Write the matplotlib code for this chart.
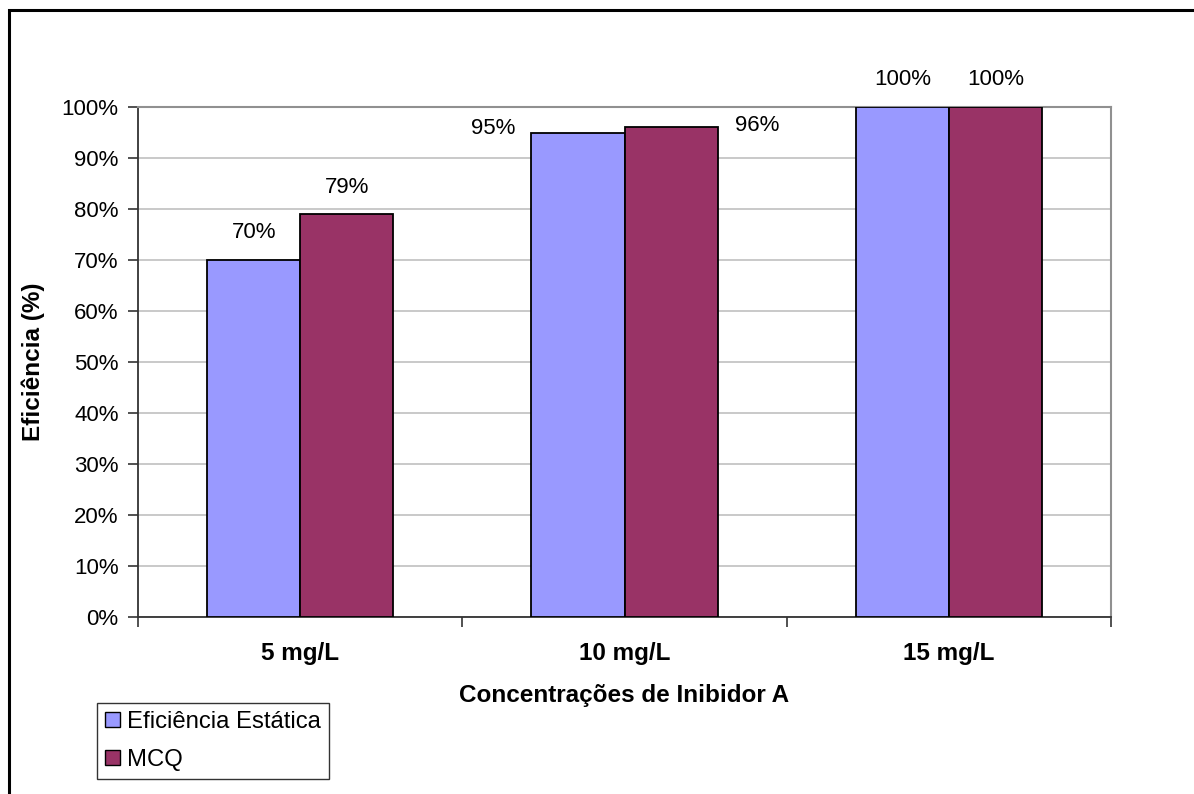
import numpy as np
import matplotlib.pyplot as plt
from matplotlib.patches import Rectangle, Patch
from matplotlib.ticker import FuncFormatter

plt.rcParams['font.family'] = ['Liberation Sans', 'DejaVu Sans']

# Inhibitor concentrations and measured efficiencies (%)
categories = ['5 mg/L', '10 mg/L', '15 mg/L']
static_eff = [70, 95, 100]
mcq_eff = [79, 96, 100]
series_names = ['Eficiência Estática', 'MCQ']

blue = '#9999FF'
purple = '#993366'

fig = plt.figure(figsize=(11.94, 7.94), dpi=100)
ax = fig.add_axes([0.1156, 0.2229, 0.8149, 0.6423])

# outer chart border (only top and left edges fall inside the canvas)
fig.patches.append(Rectangle((9 / 1194, -0.05), 1.2, 1 - 10 / 794 + 0.05,
                             transform=fig.transFigure, fill=False,
                             edgecolor='black', linewidth=2.2, zorder=0))

x = np.arange(len(categories))
w = 0.287
b1 = ax.bar(x - w / 2, static_eff, w, color=blue, edgecolor='black', linewidth=1.3, zorder=3)
b2 = ax.bar(x + w / 2, mcq_eff, w, color=purple, edgecolor='black', linewidth=1.3, zorder=3)

ax.set_xlim(-0.5, len(categories) - 0.5)
ax.set_ylim(0, 100)
ax.set_yticks(np.arange(0, 101, 10))
ax.yaxis.set_major_formatter(FuncFormatter(lambda v, p: '%d%%' % v))
ax.grid(axis='y', color='#c0c0c0', linewidth=1.2, zorder=0)

# category boundaries carry the x tick marks
ax.set_xticks(np.arange(-0.5, len(categories)), minor=False)
ax.set_xticklabels([])
ax.set_xticks(x, minor=True)
ax.set_xticklabels(categories, minor=True, fontsize=17.5, fontweight='bold')
ax.tick_params(axis='x', which='minor', length=0, pad=18)
ax.tick_params(axis='x', which='major', length=7, width=1.2, color='#333333')
ax.tick_params(axis='y', length=7, width=1.2, color='#333333', labelsize=16, pad=7)

for side in ['top', 'right']:
    ax.spines[side].set_color('#909090')
    ax.spines[side].set_linewidth(1.5)
for side in ['left', 'bottom']:
    ax.spines[side].set_color('#333333')
    ax.spines[side].set_linewidth(1.3)

ax.set_xlabel('Concentrações de Inibidor A', fontsize=17.5, fontweight='bold', labelpad=14)
ax.set_ylabel('Eficiência (%)', fontsize=17.5, fontweight='bold', labelpad=12)

# value labels; the middle group is pushed sideways
offsets_static = [(0, 19.5), (-61, 3), (0, 19.5)]
offsets_mcq = [(0, 19.5), (62, 1.5), (0, 19.5)]
for rect, v, off in zip(b1, static_eff, offsets_static):
    ax.annotate('%d%%' % v, (rect.get_x() + rect.get_width() / 2, v),
                xytext=off, textcoords='offset points', ha='center', va='center',
                fontsize=16, zorder=4)
for rect, v, off in zip(b2, mcq_eff, offsets_mcq):
    ax.annotate('%d%%' % v, (rect.get_x() + rect.get_width() / 2, v),
                xytext=off, textcoords='offset points', ha='center', va='center',
                fontsize=16, zorder=4)

handles = [Patch(facecolor=blue, edgecolor='black'), Patch(facecolor=purple, edgecolor='black')]
leg = fig.legend(handles, series_names, loc='lower left',
                 bbox_to_anchor=(97 / 1194, 15 / 794), borderaxespad=0,
                 fontsize=17.2, frameon=True, fancybox=False, handlelength=0.6,
                 handleheight=0.6, handletextpad=0.3, borderpad=0.35, labelspacing=0.65)
leg.get_frame().set_edgecolor('black')
leg.get_frame().set_linewidth(1.0)

fig.savefig('out.png', dpi=100)
